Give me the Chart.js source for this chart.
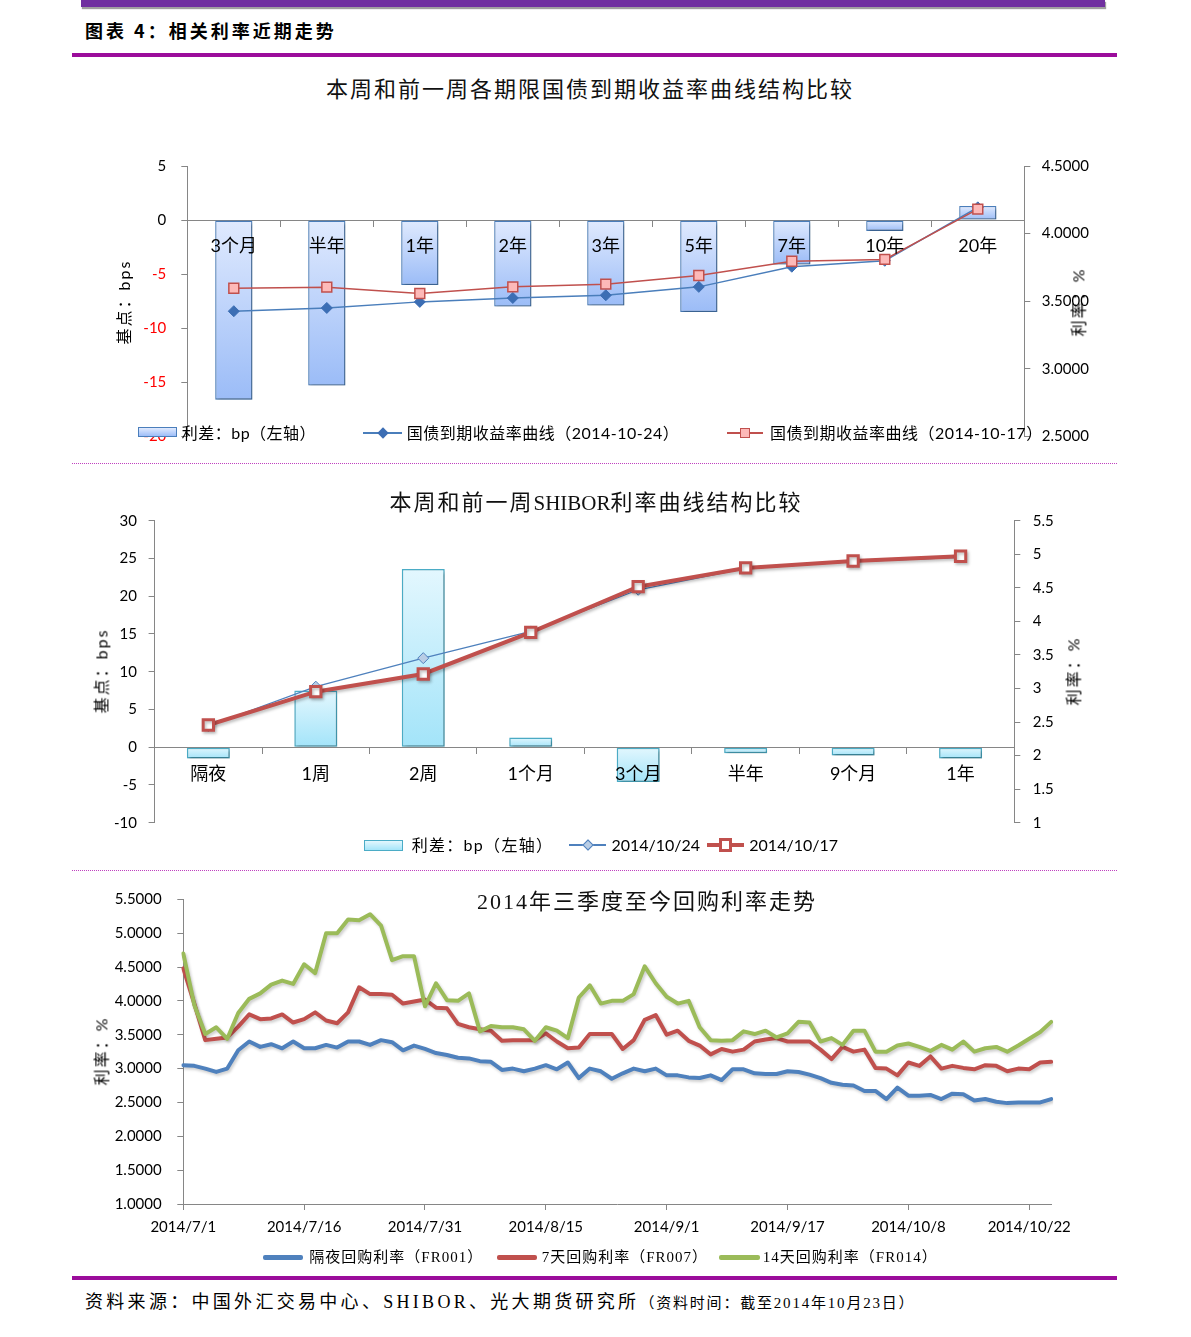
<!DOCTYPE html>
<html>
<head>
<meta charset="utf-8">
<script src="https://cdn.jsdelivr.net/npm/chart.js@4.4.1/dist/chart.umd.min.js"></script>
<style>
  html, body { margin: 0; padding: 0; background: #fff; }
  body { width: 1191px; height: 1337px; position: relative; overflow: hidden;
         font-family: "Noto Sans CJK SC", sans-serif; color: #000; line-height: 1.2; }
  .abs { position: absolute; }
  .c { position: absolute; transform: translate(-50%, -50%); white-space: nowrap; }
  .l { position: absolute; transform: translateY(-50%); white-space: nowrap; }
  .rot { position: absolute; transform: translate(-50%, -50%) rotate(-90deg); white-space: nowrap;
         font-family: Lato, "Noto Sans CJK SC", sans-serif; font-size: 16px; letter-spacing: 2px; }
  canvas { position: absolute; left: 0; }
  .title { font-family: "Liberation Serif", "Noto Sans CJK SC", serif; font-size: 22px; letter-spacing: 2px; color: #111; }
  .lat { letter-spacing: 0; font-size: 21px; }
  .lg { font-family: Lato, "Noto Sans CJK SC", sans-serif; font-size: 16px; }
  .lg3 { font-family: "Liberation Serif", "Noto Sans CJK SC", serif; font-size: 15px; letter-spacing: 1px; }
</style>
</head>
<body>

<div class="abs" style="left:81px;top:0;width:1024px;height:7px;background:#7030a0;box-shadow:1px 2px 1px #a0a0a0;"></div>
<div class="l" style="left:85px;top:31px;font-size:18px;font-weight:700;letter-spacing:3px;">图表 4：相关利率近期走势</div>
<div class="abs" style="left:72px;top:53px;width:1045px;height:4px;background:#9b0d9b;"></div>

<!-- chart 1 -->
<canvas id="bondChart" width="1191" height="330" style="top:140px;"></canvas>
<div class="c title" style="left:590px;top:90px;">本周和前一周各期限国债到期收益率曲线结构比较</div>
<div class="rot" style="left:124px;top:302px;">基点：bps</div>
<div class="rot" style="left:1078px;top:302px;">利率：%</div>
<div class="abs" style="left:137.7px;top:427px;width:39px;height:10px;box-sizing:border-box;border:1px solid #4a7ebb;background:linear-gradient(#e0eafe,#9ebef8);"></div>
<div class="l lg" style="left:181.7px;top:432.7px;letter-spacing:0.5px;">利差：bp（左轴）</div>
<div class="abs" style="left:363px;top:432px;width:39px;height:1.5px;background:#4a7ebb;"></div>
<div class="abs" style="left:378.7px;top:428.7px;width:8px;height:8px;background:#3c6eb4;transform:rotate(45deg);"></div>
<div class="l lg" style="left:406.7px;top:432.7px;letter-spacing:0.5px;">国债到期收益率曲线（2014-10-24）</div>
<div class="abs" style="left:726.7px;top:432px;width:36.3px;height:1.5px;background:#c0504d;"></div>
<div class="abs" style="left:740px;top:427.7px;width:10px;height:10px;box-sizing:border-box;border:1.5px solid #c0504d;background:#fdb9b8;"></div>
<div class="l lg" style="left:770px;top:432.7px;letter-spacing:0.5px;">国债到期收益率曲线（2014-10-17）</div>

<div class="abs" style="left:72px;top:463px;width:1045px;border-top:1px dotted #c040c0;"></div>

<!-- chart 2 -->
<canvas id="shiborChart" width="1191" height="360" style="top:490px;"></canvas>
<div class="c title" style="left:596px;top:503px;">本周和前一周<span class="lat">SHIBOR</span>利率曲线结构比较</div>
<div class="rot" style="left:101px;top:671px;">基点：bps</div>
<div class="rot" style="left:1073px;top:671px;">利率：%</div>
<div class="abs" style="left:364.3px;top:840px;width:39px;height:10.7px;box-sizing:border-box;border:1px solid #4bacc6;background:linear-gradient(#e3f7fe,#a5e5f9);"></div>
<div class="l lg" style="left:411.7px;top:845px;letter-spacing:1.3px;">利差：bp（左轴）</div>
<div class="abs" style="left:568.5px;top:844.4px;width:37px;height:1.3px;background:#4f81bd;"></div>
<div class="abs" style="left:583.7px;top:841px;width:8px;height:8px;box-sizing:border-box;border:1px solid #4f81bd;background:#b9cde5;transform:rotate(45deg);"></div>
<div class="l lg" style="left:611.4px;top:845px;">2014/10/24</div>
<div class="abs" style="left:707px;top:843px;width:37px;height:4px;background:#c0504d;"></div>
<div class="abs" style="left:719px;top:838.4px;width:13.3px;height:13.3px;box-sizing:border-box;border:3px solid #c0504d;background:#fff;"></div>
<div class="l lg" style="left:749.3px;top:845px;">2014/10/17</div>

<div class="abs" style="left:72px;top:870px;width:1045px;border-top:1px dotted #c040c0;"></div>

<!-- chart 3 -->
<canvas id="repoChart" width="1191" height="380" style="top:870px;"></canvas>
<div class="c title" style="left:647px;top:902px;">2014年三季度至今回购利率走势</div>
<div class="rot" style="left:101px;top:1051px;">利率：%</div>
<div class="abs" style="left:263.3px;top:1255px;width:39.4px;height:5px;border-radius:2px;background:#4f81bd;"></div>
<div class="l lg3" style="left:309.3px;top:1257.3px;">隔夜回购利率（FR001）</div>
<div class="abs" style="left:496.7px;top:1255px;width:40.5px;height:5px;border-radius:2px;background:#c0504d;"></div>
<div class="l lg3" style="left:541.7px;top:1257.3px;">7天回购利率（FR007）</div>
<div class="abs" style="left:719px;top:1255px;width:40.5px;height:5px;border-radius:2px;background:#9bbb59;"></div>
<div class="l lg3" style="left:762.8px;top:1257.3px;">14天回购利率（FR014）</div>

<div class="abs" style="left:72px;top:1276px;width:1045px;height:4px;background:#9b0d9b;"></div>
<div class="l" style="left:85px;top:1303px;font-family:'Liberation Serif','Noto Sans CJK SC',serif;white-space:nowrap;">
  <span style="font-size:18px;letter-spacing:3.3px;">资料来源：中国外汇交易中心、SHIBOR、光大期货研究所</span><span style="font-size:15px;letter-spacing:1.8px;">（资料时间：截至2014年10月23日）</span>
</div>

<script>
// ---- 国债：本周和前一周 ----
const bondTerms = ['3个月', '半年', '1年', '2年', '3年', '5年', '7年', '10年', '20年'];
const bondSpreadBp = [-16.6, -15.3, -6.0, -8.0, -7.9, -8.5, -4.1, -1.0, 1.3];
const bondYield1024 = [3.426, 3.450, 3.495, 3.524, 3.544, 3.606, 3.755, 3.799, 4.194];
const bondYield1017 = [3.596, 3.604, 3.557, 3.606, 3.626, 3.690, 3.796, 3.809, 4.181];

// ---- SHIBOR ----
const shiborTerms = ['隔夜', '1周', '2周', '1个月', '3个月', '半年', '9个月', '1年'];
const shiborSpreadBp = [-1.5, 7.5, 23.6, 1.3, -4.6, -0.8, -1.1, -1.5];
const shibor1024 = [2.441, 3.027, 3.452, 3.850, 4.471, 4.788, 4.889, 4.955];
const shibor1017 = [2.456, 2.952, 3.216, 3.837, 4.517, 4.796, 4.900, 4.970];

// ---- 回购利率 (trading days 2014/7/1 - 2014/10/24) ----
const julDays = [1, 2, 3, 4, 7, 8, 9, 10, 11, 14, 15, 16, 17, 18, 21, 22, 23, 24, 25, 28, 29, 30, 31];
const augDays = [1, 4, 5, 6, 7, 8, 11, 12, 13, 14, 15, 18, 19, 20, 21, 22, 25, 26, 27, 28, 29];
const sepDays = [1, 2, 3, 4, 5, 9, 10, 11, 12, 15, 16, 17, 18, 19, 22, 23, 24, 25, 26, 28, 29, 30];
const octDays = [8, 9, 10, 11, 13, 14, 15, 16, 17, 20, 21, 22, 23, 24];
const repoDates = [].concat(
  julDays.map(d => '2014/7/' + d), augDays.map(d => '2014/8/' + d),
  sepDays.map(d => '2014/9/' + d), octDays.map(d => '2014/10/' + d));
const repoTickEvery = 11;

const fr001 = [3.05, 3.04, 3.00, 2.95, 3.00, 3.27, 3.40, 3.32, 3.36, 3.30, 3.40, 3.30, 3.30, 3.35, 3.31, 3.40,
  3.40, 3.35, 3.42, 3.39, 3.27, 3.34, 3.29, 3.23, 3.20, 3.16, 3.15, 3.11, 3.10, 2.98, 3.00, 2.96,
  3.00, 3.05, 2.99, 3.09, 2.86, 3.00, 2.96, 2.85, 2.93, 3.00, 2.96, 3.00, 2.90, 2.90, 2.87, 2.86,
  2.90, 2.83, 2.99, 2.99, 2.93, 2.92, 2.92, 2.96, 2.95, 2.91, 2.86, 2.79, 2.76, 2.75, 2.67, 2.67,
  2.55, 2.72, 2.60, 2.60, 2.61, 2.55, 2.63, 2.62, 2.53, 2.55, 2.51, 2.49, 2.50, 2.50, 2.50, 2.55];
const fr007 = [4.48, 3.96, 3.42, 3.44, 3.46, 3.62, 3.80, 3.73, 3.74, 3.80, 3.68, 3.73, 3.83, 3.71, 3.67, 3.83,
  4.20, 4.10, 4.10, 4.09, 3.96, 3.99, 4.02, 3.90, 3.89, 3.66, 3.61, 3.58, 3.56, 3.41, 3.42, 3.42,
  3.42, 3.52, 3.40, 3.30, 3.31, 3.51, 3.51, 3.51, 3.29, 3.42, 3.72, 3.79, 3.50, 3.56, 3.41, 3.34,
  3.21, 3.29, 3.25, 3.28, 3.40, 3.43, 3.45, 3.40, 3.40, 3.40, 3.28, 3.14, 3.32, 3.25, 3.28, 3.01,
  3.00, 2.90, 3.09, 3.04, 3.18, 3.00, 3.04, 3.01, 2.99, 3.05, 3.04, 2.96, 3.00, 2.99, 3.09, 3.10];
const fr014 = [4.70, 3.94, 3.51, 3.61, 3.44, 3.82, 4.03, 4.11, 4.24, 4.30, 4.25, 4.54, 4.41, 5.00, 5.00, 5.20,
  5.19, 5.28, 5.11, 4.60, 4.66, 4.66, 3.92, 4.26, 4.01, 4.00, 4.11, 3.55, 3.63, 3.61, 3.61, 3.58,
  3.41, 3.61, 3.56, 3.45, 4.05, 4.23, 3.96, 4.00, 4.00, 4.10, 4.51, 4.26, 4.06, 3.96, 4.00, 3.61,
  3.42, 3.41, 3.42, 3.55, 3.51, 3.56, 3.46, 3.52, 3.69, 3.68, 3.40, 3.45, 3.35, 3.56, 3.56, 3.25,
  3.25, 3.34, 3.37, 3.32, 3.26, 3.35, 3.28, 3.40, 3.25, 3.30, 3.32, 3.25, 3.34, 3.44, 3.54, 3.69];

Chart.defaults.font.family = "Lato, 'Noto Sans CJK SC', sans-serif";
Chart.defaults.font.size = 15;
Chart.defaults.color = '#000';
Chart.defaults.plugins.legend.display = false;
Chart.defaults.plugins.tooltip.enabled = false;

const axisGray = '#868686';

// soft drop shadow for datasets that ask for it
const shadowPlugin = {
  id: 'softShadow',
  beforeDatasetDraw(chart, args) {
    const ds = chart.data.datasets[args.index];
    if (!ds.shadow) return;
    const c = chart.ctx;
    c.save();
    c.shadowColor = ds.shadow;
    c.shadowBlur = 3;
    c.shadowOffsetX = 1.5;
    c.shadowOffsetY = 2;
  },
  afterDatasetDraw(chart, args) {
    if (chart.data.datasets[args.index].shadow) chart.ctx.restore();
  }
};

// vertical gradient for each bar, light at the top
function barFill(topColor, bottomColor) {
  return function (ctx) {
    const chart = ctx.chart;
    const ys = chart.scales.y;
    if (!chart.chartArea || !ys || ctx.type !== 'data') return bottomColor;
    const a = ys.getPixelForValue(0), b = ys.getPixelForValue(ctx.raw);
    const y0 = Math.min(a, b), y1 = Math.max(a, b);
    if (y1 - y0 < 1) return bottomColor;
    const g = chart.ctx.createLinearGradient(0, y0, 0, y1);
    g.addColorStop(0, topColor);
    g.addColorStop(1, bottomColor);
    return g;
  };
}

function sideAxis(position, min, max, step, padding, callback) {
  return {
    position: position, min: min, max: max,
    ticks: { stepSize: step, padding: padding, callback: callback },
    grid: { drawOnChartArea: false, tickLength: 6, color: axisGray },
    border: { color: axisGray },
    afterFit: s => { s.width = 80; }
  };
}

// category axis sitting on the zero line, labels drawn over the bars
function zeroCategoryAxis(padding) {
  return {
    position: { y: 0 }, offset: true,
    grid: { offset: true, drawOnChartArea: false, tickLength: 6, color: axisGray },
    border: { color: axisGray },
    ticks: { z: 1, padding: padding, font: { size: 18 }, autoSkip: false, maxRotation: 0 }
  };
}

// chart 1
const bondY = sideAxis('left', -20, 5, 5, 15, v => String(v));
bondY.ticks.color = c => (c.tick && c.tick.value < 0 ? '#ff0000' : '#000');
new Chart(document.getElementById('bondChart'), {
  type: 'bar',
  data: {
    labels: bondTerms,
    datasets: [
      { type: 'line', label: '国债到期收益率曲线（2014-10-17）', data: bondYield1017, yAxisID: 'y1', order: 0,
        borderColor: '#c0504d', borderWidth: 1.5, tension: 0,
        pointStyle: 'rect', pointRadius: 7, pointBackgroundColor: '#fdb9b8',
        pointBorderColor: '#c0504d', pointBorderWidth: 1.5 },
      { type: 'line', label: '国债到期收益率曲线（2014-10-24）', data: bondYield1024, yAxisID: 'y1', order: 1,
        borderColor: '#4a7ebb', borderWidth: 1.5, tension: 0,
        pointStyle: 'rectRot', pointRadius: 5.5, pointBackgroundColor: '#3c6eb4',
        pointBorderColor: '#3c6eb4', pointBorderWidth: 1 },
      { type: 'bar', label: '利差：bp（左轴）', data: bondSpreadBp, yAxisID: 'y', order: 2,
        backgroundColor: barFill('#e0eafe', '#9bbcf7'), borderColor: '#4a7ebb', borderWidth: 1.3,
        borderSkipped: false, barPercentage: 0.4, categoryPercentage: 1, shadow: 'rgba(0,0,0,0.3)' }
    ]
  },
  options: {
    responsive: false, animation: false, devicePixelRatio: 1,
    layout: { padding: { left: 107.3, right: 86.7, top: 26, bottom: 33.6 } },
    scales: {
      x: zeroCategoryAxis(9.6),
      y: bondY,
      y1: sideAxis('right', 2.5, 4.5, 0.5, 11.5, v => v.toFixed(4))
    }
  },
  plugins: [shadowPlugin]
});

// chart 2
new Chart(document.getElementById('shiborChart'), {
  type: 'bar',
  data: {
    labels: shiborTerms,
    datasets: [
      { type: 'line', label: '2014/10/17', data: shibor1017, yAxisID: 'y1', order: 0,
        borderColor: '#c0504d', borderWidth: 4, tension: 0,
        pointStyle: 'rect', pointRadius: 7.3, pointBackgroundColor: '#fff',
        pointBorderColor: '#c0504d', pointBorderWidth: 3, shadow: 'rgba(0,0,0,0.25)' },
      { type: 'line', label: '2014/10/24', data: shibor1024, yAxisID: 'y1', order: 1,
        borderColor: '#4f81bd', borderWidth: 1.3, tension: 0,
        pointStyle: 'rectRot', pointRadius: 5.5, pointBackgroundColor: '#b9cde5',
        pointBorderColor: '#4f81bd', pointBorderWidth: 1 },
      { type: 'bar', label: '利差：bp（左轴）', data: shiborSpreadBp, yAxisID: 'y', order: 2,
        backgroundColor: barFill('#e3f7fe', '#a3e4f9'), borderColor: '#4bacc6', borderWidth: 1.5,
        borderSkipped: false, barPercentage: 0.4, categoryPercentage: 1, shadow: 'rgba(0,0,0,0.3)' }
    ]
  },
  options: {
    responsive: false, animation: false, devicePixelRatio: 1,
    layout: { padding: { left: 74.6, right: 96.7, top: 30.7, bottom: 27.3 } },
    scales: {
      x: zeroCategoryAxis(10),
      y: sideAxis('left', -10, 30, 5, 11.6, v => String(v)),
      y1: sideAxis('right', 1, 5.5, 0.5, 12.4, v => String(Number(v.toFixed(1))))
    }
  },
  plugins: [shadowPlugin]
});

// chart 3
new Chart(document.getElementById('repoChart'), {
  type: 'line',
  data: {
    labels: repoDates,
    datasets: [
      { label: '14天回购利率（FR014）', data: fr014, borderColor: '#9bbb59', order: 0, shadow: 'rgba(0,0,0,0.2)' },
      { label: '7天回购利率（FR007）', data: fr007, borderColor: '#c0504d', order: 1, shadow: 'rgba(0,0,0,0.2)' },
      { label: '隔夜回购利率（FR001）', data: fr001, borderColor: '#4f81bd', order: 2, shadow: 'rgba(0,0,0,0.2)' }
    ]
  },
  options: {
    responsive: false, animation: false, devicePixelRatio: 1,
    elements: {
      line: { borderWidth: 4, tension: 0, borderJoinStyle: 'round', borderCapStyle: 'round' },
      point: { radius: 0 }
    },
    layout: { padding: { left: 103.3, right: 139.8, top: 29.3, bottom: 6 } },
    scales: {
      x: {
        grid: { drawOnChartArea: false, tickLength: 6,
                color: c => (c.index % repoTickEvery === 0 ? axisGray : 'rgba(0,0,0,0)') },
        border: { color: axisGray },
        ticks: { autoSkip: false, maxRotation: 0, minRotation: 0, padding: 8.5,
                 callback: (v, i) => (i % repoTickEvery === 0 ? repoDates[i] : '') },
        afterFit: s => { s.height = 40; }
      },
      y: sideAxis('left', 1, 5.5, 0.5, 15.6, v => v.toFixed(4))
    }
  },
  plugins: [shadowPlugin]
});
</script>
</body>
</html>
